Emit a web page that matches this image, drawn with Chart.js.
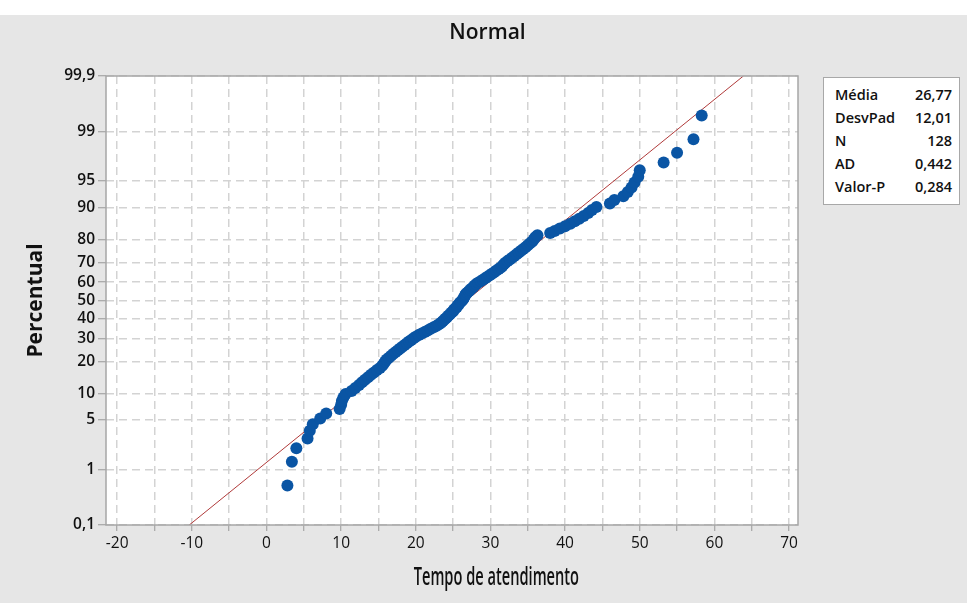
<!DOCTYPE html>
<html>
<head>
<meta charset="utf-8">
<script src="https://cdn.jsdelivr.net/npm/chart.js@4.4.1/dist/chart.umd.min.js"></script>
<style>
  html, body { margin: 0; padding: 0; background: #fff; }
  #wrap { position: relative; width: 971px; height: 603px; overflow: hidden; }
  #bg { position: absolute; left: 0; top: 15px; width: 967px; height: 588px; background: #e6e6e6; }
  #myChart { position: absolute; left: 0; top: 0; }
  #titulo { position: absolute; left: 0; width: 975px; top: 17px; text-align: center;
    font: 600 21px 'Open Sans', sans-serif; color: #111; }
  #xtitulo { position: absolute; left: 0; width: 993px; top: 559px; text-align: center;
    font: 600 19.5px 'Open Sans', sans-serif; color: #111;
    transform: scale(0.75, 1.25); transform-origin: 496px 0; }
  #stats { position: absolute; left: 823px; top: 77px; width: 137px; height: 128px; box-sizing: border-box;
    background: #fff; border: 1px solid #a8a8a8; padding: 5px 7px 0 11px;
    font: 600 14.5px 'Open Sans', sans-serif; color: #111; }
  #stats div { display: flex; justify-content: space-between; height: 23px; line-height: 23px; }
</style>
</head>
<body>
<div id="wrap">
  <div id="bg"></div>
  <canvas id="myChart" width="971" height="603"></canvas>
  <div id="titulo">Normal</div>
  <div id="xtitulo">Tempo de atendimento</div>
  <div id="stats"></div>
</div>
<script>
// tempo de atendimento, ordenado (128 observações)
let tempo = [
  2.8, 3.4, 4.0, 5.5, 5.8, 6.2, 7.2, 8.0, 9.8, 10.0,
  10.1, 10.3, 10.6, 11.4, 11.9, 12.4, 12.8, 13.2, 13.6, 14.0,
  14.4, 14.8, 15.2, 15.5, 15.7, 15.9, 16.1, 16.4, 16.7, 17.0,
  17.3, 17.6, 17.9, 18.2, 18.5, 18.8, 19.1, 19.4, 19.7, 20.0,
  20.4, 20.8, 21.2, 21.6, 22.0, 22.4, 22.8, 23.1, 23.4, 23.6,
  23.8, 24.0, 24.2, 24.4, 24.6, 24.8, 25.0, 25.1, 25.3, 25.5,
  25.6, 25.8, 25.9, 26.1, 26.3, 26.4, 26.5, 26.6, 26.7, 26.9,
  27.1, 27.3, 27.5, 27.7, 27.9, 28.1, 28.4, 28.7, 29.0, 29.3,
  29.6, 29.9, 30.2, 30.5, 30.8, 31.1, 31.4, 31.6, 31.8, 32.0,
  32.3, 32.6, 32.9, 33.2, 33.5, 33.8, 34.1, 34.4, 34.7, 35.0,
  35.3, 35.6, 35.8, 36.0, 36.3, 38.0, 38.6, 39.3, 40.0, 40.7,
  41.3, 41.9, 42.5, 43.1, 43.6, 44.2, 46.0, 46.6, 47.8, 48.4,
  48.9, 49.3, 49.8, 50.0, 53.2, 55.0, 57.2, 58.3
];
let media = 26.77;
let desvPad = 12.01;
let statLabels = ['Média', 'DesvPad', 'N', 'AD', 'Valor-P'];
let statValues = ['26,77', '12,01', '128', '0,442', '0,284'];
let yTickPct = [0.1, 1, 5, 10, 20, 30, 40, 50, 60, 70, 80, 90, 95, 99, 99.9];
let yTickLabels = ['0,1', '1', '5', '10', '20', '30', '40', '50', '60', '70', '80', '90', '95', '99', '99,9'];
let xTicks = [-20, -15, -10, -5, 0, 5, 10, 15, 20, 25, 30, 35, 40, 45, 50, 55, 60, 65, 70];

// inversa da normal padrão (Acklam)
function qnorm(p) {
  const a = [-39.69683028665376, 220.9460984245205, -275.9285104469687, 138.3577518672690, -30.66479806614716, 2.506628277459239];
  const b = [-54.47609879822406, 161.5858368580409, -155.6989798598866, 66.80131188771972, -13.28068155288572];
  const c = [-0.007784894002430293, -0.3223964580411365, -2.400758277161838, -2.549732539343734, 4.374664141464968, 2.938163982698783];
  const d = [0.007784695709041462, 0.3224671290700398, 2.445134137142996, 3.754408661907416];
  let q, r;
  if (p < 0.02425) {
    q = Math.sqrt(-2 * Math.log(p));
    return (((((c[0]*q+c[1])*q+c[2])*q+c[3])*q+c[4])*q+c[5]) / ((((d[0]*q+d[1])*q+d[2])*q+d[3])*q+1);
  }
  if (p > 1 - 0.02425) {
    q = Math.sqrt(-2 * Math.log(1 - p));
    return -(((((c[0]*q+c[1])*q+c[2])*q+c[3])*q+c[4])*q+c[5]) / ((((d[0]*q+d[1])*q+d[2])*q+d[3])*q+1);
  }
  q = p - 0.5; r = q * q;
  return (((((a[0]*r+a[1])*r+a[2])*r+a[3])*r+a[4])*r+a[5])*q / (((((b[0]*r+b[1])*r+b[2])*r+b[3])*r+b[4])*r+1);
}

let n = tempo.length;
// posição de plotagem: rank mediano (i - 0.3) / (n + 0.4)
let pontos = tempo.map((v, i) => ({ x: v, y: qnorm((i + 1 - 0.3) / (n + 0.4)) }));
let zMin = qnorm(0.001);
let zMax = qnorm(0.999);
let reta = [
  { x: media + desvPad * zMin, y: zMin },
  { x: media + desvPad * zMax, y: zMax }
];

document.getElementById('stats').innerHTML = statLabels
  .map((l, i) => '<div><span>' + l + '</span><span>' + statValues[i] + '</span></div>').join('');

const areaPlugin = {
  id: 'areaPlugin',
  beforeDraw(chart) {
    const { ctx, chartArea: a } = chart;
    ctx.save();
    ctx.fillStyle = '#ffffff';
    ctx.fillRect(a.left, a.top, a.right - a.left, a.bottom - a.top);
    ctx.restore();
  },
  afterDraw(chart) {
    const { ctx, chartArea: a } = chart;
    ctx.save();
    ctx.strokeStyle = '#a6a6a6';
    ctx.lineWidth = 1.5;
    ctx.strokeRect(a.left, a.top, a.right - a.left, a.bottom - a.top);
    ctx.restore();
  }
};

let ctx = document.getElementById('myChart').getContext('2d');
let myChart = new Chart(ctx, {
  type: 'scatter',
  data: {
    datasets: [{
      label: 'Tempo',
      data: pontos,
      backgroundColor: '#0a55a4',
      borderWidth: 0,
      pointRadius: 6,
      pointHoverRadius: 6,
      order: 0
    }, {
      type: 'line',
      label: 'Ajuste',
      data: reta,
      borderColor: '#b03a3a',
      borderWidth: 1,
      pointRadius: 0,
      fill: false,
      order: 1
    }]
  },
  options: {
    responsive: false,
    animation: false,
    layout: { padding: { top: 76, right: 173, left: 0, bottom: 0 } },
    plugins: {
      legend: { display: false },
      tooltip: { enabled: false }
    },
    scales: {
      x: {
        type: 'linear',
        min: -21.5,
        max: 71.2,
        afterBuildTicks: (s) => { s.ticks = xTicks.map(v => ({ value: v })); },
        afterFit: (s) => { s.height = 78; },
        ticks: {
          autoSkip: false,
          maxRotation: 0,
          padding: 3,
          color: '#111',
          font: { family: 'Open Sans', size: 15.5, weight: '500' },
          callback: (v) => (v % 10 === 0 ? String(v) : '')
        },
        grid: { color: '#d3d3d3', lineWidth: 1.5, tickLength: 6, tickColor: '#999999', tickWidth: 1 },
        border: { display: false, dash: [8, 5] }
      },
      y: {
        type: 'linear',
        min: zMin,
        max: zMax,
        afterBuildTicks: (s) => { s.ticks = yTickPct.map(p => ({ value: qnorm(p / 100) })); },
        afterFit: (s) => { s.width = 106; },
        title: {
          display: true,
          text: 'Percentual',
          color: '#111',
          font: { family: 'Open Sans', size: 21, weight: 'bold' },
          padding: { top: 23, bottom: 0 }
        },
        ticks: {
          autoSkip: false,
          padding: 3,
          color: '#111',
          font: { family: 'Open Sans', size: 15.5, weight: '600' },
          callback: (v, i) => yTickLabels[i]
        },
        grid: { color: '#d3d3d3', lineWidth: 1.5, tickLength: 8, tickColor: '#999999', tickWidth: 1 },
        border: { display: false, dash: [8, 5] }
      }
    }
  },
  plugins: [areaPlugin]
});
</script>
</body>
</html>
